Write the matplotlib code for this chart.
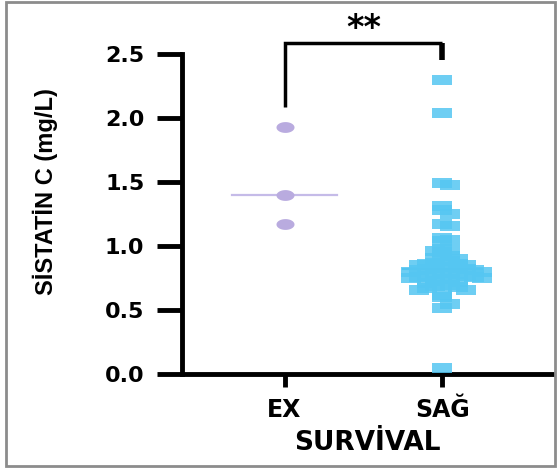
import numpy as np
import matplotlib
matplotlib.use("Agg")
import matplotlib.pyplot as plt
from matplotlib.patches import Rectangle

# data
groups = ["EX", "SAĞ"]
ex_values = [1.93, 1.40, 1.17]
sag_values = [2.30, 2.04, 1.49, 1.48, 1.31, 1.28, 1.25, 1.17, 1.16,
              1.06, 1.05, 1.04, 0.98, 0.97, 0.96, 0.95, 0.92, 0.91, 0.90,
              0.89, 0.88, 0.87, 0.86, 0.86, 0.85, 0.85, 0.84, 0.84, 0.83,
              0.83, 0.82, 0.82, 0.81, 0.81, 0.80, 0.80, 0.79, 0.79, 0.78,
              0.78, 0.77, 0.77, 0.76, 0.76, 0.75, 0.75, 0.74, 0.74, 0.73,
              0.72, 0.71, 0.70, 0.70, 0.69, 0.68, 0.67, 0.66, 0.66, 0.62,
              0.60, 0.55, 0.52, 0.05]
yticks = [0.0, 0.5, 1.0, 1.5, 2.0, 2.5]
ylabel = "SİSTATİN C (mg/L)"
xlabel = "SURVİVAL"
signif = "**"


def swarm_offsets(vals, bin_h=0.05, step=0.05):
	"""spread points that fall in the same bin side by side"""
	vals = np.asarray(vals)
	offs = np.zeros(len(vals))
	bins = np.floor(vals / bin_h).astype(int)
	for b in np.unique(bins):
		idx = np.where(bins == b)[0]
		for k, i in enumerate(idx):
			n = (k + 1) // 2
			offs[i] = n * step * (1 if k % 2 else -1)
	return offs


# wide markers, the picture is stretched sideways
ellipse = [(np.cos(t), 0.6 * np.sin(t)) for t in np.linspace(0, 2 * np.pi, 40)]
rect = [(-1, -0.5), (1, -0.5), (1, 0.5), (-1, 0.5), (-1, -0.5)]

fig = plt.figure(figsize=(5.58, 4.70), dpi=100)
fig.patches.append(Rectangle((6 / 558, 4 / 470), 549 / 558, 464 / 470,
	transform=fig.transFigure, fill=False, edgecolor="#8c8c8c", lw=2))

ax = fig.add_axes([0.326, 0.204, 0.665, 0.681])

ax.plot(np.zeros(len(ex_values)), ex_values, linestyle="none", marker=ellipse,
	markersize=13, color="#b9abdf", markeredgewidth=0, zorder=3)
ax.plot([-0.33, 0.33], [np.median(ex_values)] * 2, color="#c5bbe8", lw=1.6, zorder=2)

ax.plot(1 + swarm_offsets(sag_values), sag_values, linestyle="none", marker=rect,
	markersize=14, color="#55c6f2", alpha=0.85, markeredgewidth=0, zorder=3)
ax.plot([0.75, 1.25], [np.median(sag_values)] * 2, color="#3fb6e8", lw=1.6, zorder=2)

# significance bracket
ax.plot([0, 0, 1], [2.09, 2.59, 2.59], color="black", lw=2.5, clip_on=False,
	solid_capstyle="butt", solid_joinstyle="miter")
ax.plot([1, 1], [2.59, 2.45], color="black", lw=4, clip_on=False, solid_capstyle="butt")
ax.text(0.5, 2.70, signif, ha="center", va="center", fontsize=24,
	fontweight="bold", family="DejaVu Sans")

ax.set_xlim(-0.65, 1.70)
ax.set_ylim(0, 2.5)
ax.set_yticks(yticks)
ax.set_yticklabels([f"{v:.1f}" for v in yticks], fontsize=16, fontweight="bold",
	family="DejaVu Sans")
ax.set_xticks([0, 1])
ax.set_xticklabels(groups, fontsize=17, fontweight="bold", family="DejaVu Sans")

for s in ["top", "right"]:
	ax.spines[s].set_visible(False)
for s in ["left", "bottom"]:
	ax.spines[s].set_linewidth(3.5)
ax.tick_params(axis="y", length=18, width=3.5, pad=9)
ax.tick_params(axis="x", length=9, width=3.5, pad=8)

ax.set_xlabel(xlabel, fontsize=19, fontweight="bold", family="DejaVu Sans", labelpad=6)
ax.set_ylabel(ylabel, fontsize=17, fontweight="bold",
	family=["Liberation Sans Narrow", "Liberation Sans", "DejaVu Sans"])
ax.yaxis.set_label_coords(-0.335, 0.569)

fig.savefig("out.png", dpi=100)
